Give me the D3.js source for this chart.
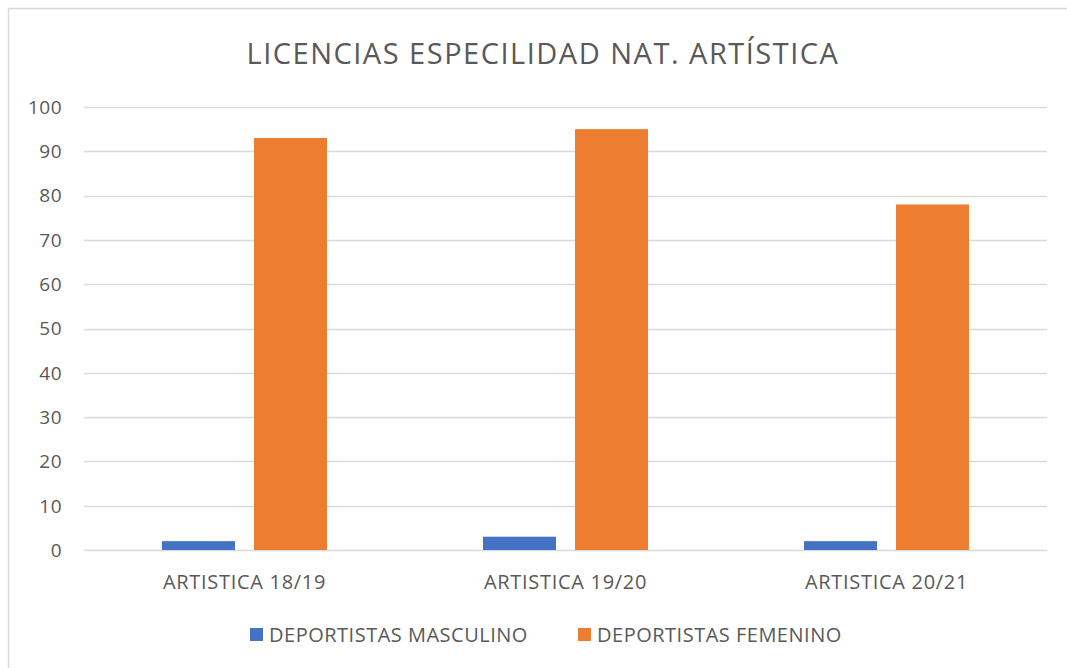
<!DOCTYPE html>
<html><head><meta charset="utf-8">
<script src="https://cdn.jsdelivr.net/npm/d3@7"></script>
<style>body{margin:0;background:#fff}svg{display:block}</style>
</head><body>
<svg id="c" width="1067" height="668"></svg>
<script>
const title = "LICENCIAS ESPECILIDAD NAT. ARTÍSTICA";
const categories = ["ARTISTICA 18/19", "ARTISTICA 19/20", "ARTISTICA 20/21"];
const seriesNames = ["DEPORTISTAS MASCULINO", "DEPORTISTAS FEMENINO"];
const masculino = [2, 3, 2];
const femenino = [93, 95, 78];
const yTicks = [0, 10, 20, 30, 40, 50, 60, 70, 80, 90, 100];
const colors = ["#4472C4", "#ED7D31"];

(function () {
const svg = d3.select("#c");
const font = "'Open Sans', 'Liberation Sans', sans-serif";
const textColor = "#595959";

svg.append("path").attr("d", "M1067,8.5 H8.5 V668").attr("fill", "none")
  .attr("stroke", "#d9d9d9").attr("stroke-width", 1.5);

const pLeft = 84, pRight = 1047, pTop = 107, pBottom = 550;
const x = d3.scaleBand().domain(categories).range([pLeft, pRight]);
const y = d3.scaleLinear().domain([0, 100]).range([pBottom, pTop]);
const xs = d3.scaleBand().domain(seriesNames).range([0, x.bandwidth()]).paddingInner(0.2065).paddingOuter(0.848);

svg.append("g").selectAll("line").data(yTicks).join("line")
  .attr("x1", pLeft).attr("x2", pRight)
  .attr("y1", d => Math.round(y(d)) + 0.5).attr("y2", d => Math.round(y(d)) + 0.5)
  .attr("stroke", "#d9d9d9").attr("stroke-width", 1.5);

svg.append("g").selectAll("text").data(yTicks).join("text")
  .attr("x", 62).attr("y", d => y(d)).attr("dy", "0.36em")
  .attr("text-anchor", "end").attr("font-family", font).attr("font-size", 19)
  .attr("letter-spacing", 0.5)
  .attr("fill", textColor).text(d => d);

const data = categories.map((c, i) => ({c, vals: [masculino[i], femenino[i]]}));
const groups = svg.append("g").selectAll("g").data(data).join("g")
  .attr("transform", d => `translate(${x(d.c)},0)`);
groups.selectAll("rect").data(d => d.vals.map((v, j) => ({v, s: seriesNames[j], j})))
  .join("rect")
  .attr("x", d => xs(d.s)).attr("width", xs.bandwidth())
  .attr("y", d => y(d.v)).attr("height", d => y(0) - y(d.v))
  .attr("fill", d => colors[d.j]);

svg.append("g").selectAll("text").data(categories).join("text")
  .attr("x", d => x(d) + x.bandwidth() / 2).attr("y", 582).attr("dy", "0.36em")
  .attr("text-anchor", "middle").attr("font-family", font).attr("font-size", 20)
  .attr("letter-spacing", 0.7)
  .attr("fill", textColor).text(d => d);

svg.append("text").attr("x", 543).attr("y", 64).attr("text-anchor", "middle")
  .attr("font-family", font).attr("font-size", 29).attr("letter-spacing", 1.5)
  .attr("fill", textColor).text(title);

const legX = [250, 578];
const lg = svg.append("g").selectAll("g").data(seriesNames).join("g")
  .attr("transform", (d, i) => `translate(${legX[i]},628)`);
lg.append("rect").attr("width", 13).attr("height", 13).attr("fill", (d, i) => colors[i]);
lg.append("text").attr("x", 19).attr("y", 6.5).attr("dy", "0.36em")
  .attr("font-family", font).attr("font-size", 20).attr("letter-spacing", 0.5)
  .attr("fill", textColor).text(d => d);
})();
</script>
</body></html>
